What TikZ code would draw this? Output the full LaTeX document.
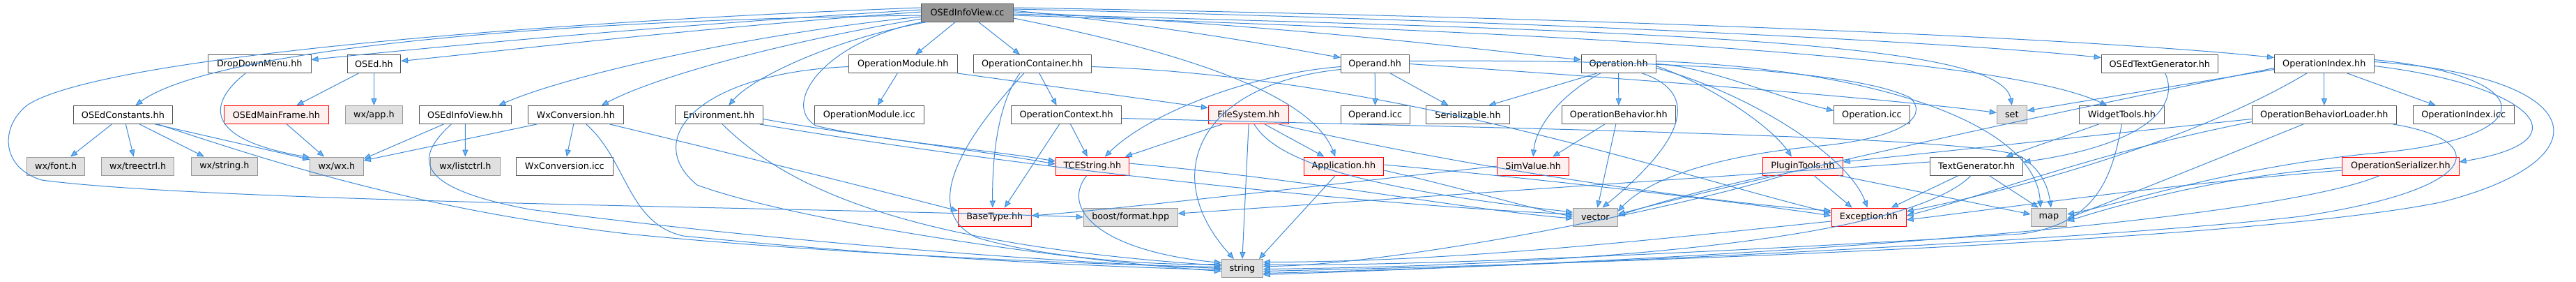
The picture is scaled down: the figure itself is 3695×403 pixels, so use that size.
\documentclass[tikz,border=0pt]{standalone}
\usepackage{fontspec}
\newfontfamily\djv{DejaVu Sans}
\usetikzlibrary{arrows.meta,calc}
\definecolor{edgecol}{HTML}{3E89D6}
\definecolor{arrfill}{HTML}{63B8FF}
\definecolor{nodeborder}{HTML}{555555}
\definecolor{extfill}{HTML}{E0E0E0}
\definecolor{extborder}{HTML}{999999}
\definecolor{truncfill}{HTML}{FFF0F0}
\definecolor{rootfill}{HTML}{999999}
\begin{document}
\begin{tikzpicture}[x=0.5pt,y=-0.5pt,
  nb/.style={draw=nodeborder, fill=white, line width=0.5pt, minimum height=13pt, inner sep=0pt, font=\djv\fontsize{6.4}{7.5}\selectfont, text=black},
  ext/.style={nb, draw=extborder, fill=extfill},
  trn/.style={nb, draw=red, fill=truncfill},
  root/.style={nb, fill=rootfill},
  lk/.style={draw=edgecol, line width=0.5pt, -{Triangle[length=5pt,width=4pt,fill=arrfill]}}]
\useasboundingbox (0,0) rectangle (3695,403);
% row 0
\node[root, minimum width=65.6pt] (top) at (1387.5,18) {OSEdInfoView.cc};
% row 1
\node[nb, minimum width=73.8pt] (dropdown) at (372.3,91.5) {DropDownMenu.hh};
\node[nb, minimum width=38.2pt] (osed) at (536.4,91.5) {OSEd.hh};
\node[nb, minimum width=77.9pt] (opmod) at (1295.3,91.5) {OperationModule.hh};
\node[nb, minimum width=84.3pt] (opcont) at (1480.8,91.5) {OperationContainer.hh};
\node[nb, minimum width=48.8pt] (operand) at (1972.2,91.5) {Operand.hh};
\node[nb, minimum width=53.4pt] (operation) at (2321.6,91.5) {Operation.hh};
\node[nb, minimum width=83.7pt] (osedtg) at (3097.8,91.5) {OSEdTextGenerator.hh};
\node[nb, minimum width=71.4pt] (opindex) at (3333.8,91.5) {OperationIndex.hh};
% row 2
\node[nb, minimum width=70.8pt] (osedconst) at (176.4,164.5) {OSEdConstants.hh};
\node[trn, minimum width=74.9pt] (mainframe) at (396.4,164.5) {OSEdMainFrame.hh};
\node[ext, minimum width=41pt] (wxapp) at (536.4,164.5) {wx/app.h};
\node[nb, minimum width=66.1pt] (infoview) at (667.3,164.5) {OSEdInfoView.hh};
\node[nb, minimum width=68.4pt] (wxconv) at (825.8,164.5) {WxConversion.hh};
\node[nb, minimum width=63.1pt] (env) at (1031.2,164.5) {Environment.hh};
\node[nb, minimum width=78.6pt] (opmodicc) at (1246.8,164.5) {OperationModule.icc};
\node[nb, minimum width=79.3pt] (opctx) at (1529.6,164.5) {OperationContext.hh};
\node[trn, minimum width=57.7pt] (fs) at (1791.1,164.5) {FileSystem.hh};
\node[nb, minimum width=49.6pt] (operandicc) at (1972.6,164.5) {Operand.icc};
\node[nb, minimum width=59.6pt] (serial) at (2105.5,164.5) {Serializable.hh};
\node[nb, minimum width=81.7pt] (opbeh) at (2321.8,164.5) {OperationBehavior.hh};
\node[nb, minimum width=54.4pt] (opicc) at (2684.9,164.5) {Operation.icc};
\node[ext, minimum width=21.6pt] (set) at (2885.8,164.5) {set};
\node[nb, minimum width=61pt] (widget) at (3043.4,164.5) {WidgetTools.hh};
\node[nb, minimum width=103.4pt] (obl) at (3333.8,164.5) {OperationBehaviorLoader.hh};
\node[nb, minimum width=72.4pt] (opindexicc) at (3533.7,164.5) {OperationIndex.icc};
% row 3
\node[ext, minimum width=41.7pt] (wxfont) at (80.1,238) {wx/font.h};
\node[ext, minimum width=52.2pt] (wxtree) at (197.7,238) {wx/treectrl.h};
\node[ext, minimum width=47.5pt] (wxstring) at (321.9,238) {wx/string.h};
\node[ext, minimum width=38.2pt] (wxwx) at (483.0,238) {wx/wx.h};
\node[ext, minimum width=49.6pt] (wxlist) at (667.4,238) {wx/listctrl.h};
\node[nb, minimum width=69.4pt] (wxconvicc) at (809.8,238) {WxConversion.icc};
\node[trn, minimum width=52.4pt] (tcestring) at (1566.8,238) {TCEString.hh};
\node[trn, minimum width=57.4pt] (app) at (1927.4,238) {Application.hh};
\node[trn, minimum width=51.6pt] (simvalue) at (2199.2,238) {SimValue.hh};
\node[trn, minimum width=57.4pt] (plugin) at (2585.9,238) {PluginTools.hh};
\node[nb, minimum width=66.7pt] (textgen) at (2835.2,238) {TextGenerator.hh};
\node[trn, minimum width=83.7pt] (opser) at (3443.4,238) {OperationSerializer.hh};
% row 4
\node[trn, minimum width=52.4pt] (basetype) at (1426.8,311) {BaseType.hh};
\node[ext, minimum width=67.4pt] (boost) at (1621.7,311) {boost/format.hpp};
\node[ext, minimum width=31.7pt] (vector) at (2288.4,311) {vector};
\node[trn, minimum width=53.6pt] (exception) at (2680.6,311) {Exception.hh};
\node[ext, minimum width=25.7pt] (map) at (2938.9,311) {map};
% row 5
\node[ext, minimum width=29.5pt] (string) at (1781.9,384.5) {string};

% ---- edges from OSEdInfoView.cc
\draw[lk] ($(top.west)+(0,4)$) .. controls (700,30) and (290,80) .. ($(osedconst.north)+(18,0)$);
\draw[lk] ($(top.west)+(0,-4)$) .. controls (900,40) and (600,70) .. ($(dropdown.east)+(0,-6)$);
\draw[lk] ($(top.west)+(0,-1)$) .. controls (1000,40) and (700,75) .. ($(osed.east)+(0,-4)$);
\draw[lk] ($(top.west)+(0,6)$) .. controls (1100,45) and (820,105) .. ($(infoview.north)+(48,0)$);
\draw[lk] ($(top.west)+(0,9)$) .. controls (1150,55) and (950,105) .. ($(wxconv.north)+(37,0)$);
\draw[lk] ($(top.south west)+(8,0)$) .. controls (1200,55) and (1080,110) .. ($(env.north)+(14,0)$);
\draw[lk] ($(top.south)+(-17,0)$) -- ($(opmod.north)+(18,0)$);
\draw[lk] ($(top.south)+(16,0)$) -- ($(opcont.north)+(-18,0)$);
\draw[lk] ($(top.east)+(0,-3)$) .. controls (1700,40) and (1850,70) .. ($(operand.west)+(0,-9)$);
\draw[lk] ($(top.east)+(0,-1)$) .. controls (1900,40) and (2150,75) .. ($(operation.west)+(0,-6)$);
\draw[lk] ($(top.east)+(0,-5)$) .. controls (2200,30) and (2800,60) .. ($(osedtg.west)+(0,-9)$);
\draw[lk] ($(top.east)+(0,-7)$) .. controls (2300,25) and (3000,55) .. ($(opindex.west)+(0,-9)$);
\draw[lk] ($(top.east)+(0,2)$) .. controls (2400,45) and (2870,60) .. (set.north);
\draw[lk] ($(top.east)+(0,4)$) .. controls (2500,55) and (2900,95) .. ($(widget.north)+(-21,0)$);
\draw[lk] ($(top.east)+(0,8)$) .. controls (1700,75) and (1880,135) .. ($(app.north)+(-12,0)$);
\draw[lk] ($(top.west)+(0,-7)$) .. controls (800,30) and (150,80) .. (40,150) .. controls (0,180) and (0,240) .. (60,258) .. controls (300,290) and (1200,298) .. (boost.west);
\draw[lk] ($(top.south west)+(2,0)$) .. controls (1180,60) and (1120,150) .. (1170,180) .. controls (1250,200) and (1420,215) .. ($(tcestring.west)+(0,-7)$);

% ---- OSEdConstants.hh
\draw[lk] ($(osedconst.south)+(-16,0)$) -- ($(wxfont.north)+(21,0)$);
\draw[lk] ($(osedconst.south)+(4,0)$) -- ($(wxtree.north)+(-6,0)$);
\draw[lk] ($(osedconst.south)+(24,0)$) -- ($(wxstring.north)+(-29,0)$);
\draw[lk] ($(osedconst.south)+(46,0)$) -- ($(wxwx.north west)+(0,4)$);
\draw[lk] ($(osedconst.south)+(50,0)$) .. controls (400,235) and (600,300) .. (900,335) .. controls (1200,365) and (1600,380) .. ($(string.west)+(0,-2)$);
% ---- DropDownMenu.hh, OSEd.hh, OSEdMainFrame.hh
\draw[lk] ($(dropdown.south)+(-20,0)$) .. controls (295,150) and (295,200) .. ($(wxwx.north west)+(0,1)$);
\draw[lk] ($(osed.south)+(-22,0)$) -- ($(mainframe.north)+(29,0)$);
\draw[lk] (osed.south) -- (wxapp.north);
\draw[lk] ($(mainframe.south)+(15,0)$) -- ($(wxwx.north)+(-18,0)$);
% ---- OSEdInfoView.hh
\draw[lk] ($(infoview.south)+(-31,0)$) -- ($(wxwx.north east)+(0,3)$);
\draw[lk] (infoview.south) -- (wxlist.north);
\draw[lk] ($(infoview.south)+(-20,0)$) .. controls (590,230) and (600,270) .. (760,300) .. controls (1100,345) and (1500,375) .. ($(string.west)+(0,0)$);
% ---- WxConversion.hh
\draw[lk] ($(wxconv.south)+(-56,0)$) -- ($(wxwx.east)+(0,-8)$);
\draw[lk] ($(wxconv.south)+(-3,0)$) -- ($(wxconvicc.north)+(3,0)$);
\draw[lk] ($(wxconv.south)+(15,0)$) .. controls (900,230) and (900,320) .. (980,338) .. controls (1300,370) and (1600,383) .. ($(string.west)+(0,2)$);
\draw[lk] ($(wxconv.south east)+(-20,0)$) .. controls (1050,220) and (1250,270) .. ($(basetype.west)+(0,-9)$);
% ---- Environment.hh
\draw[lk] ($(env.east)+(0,6)$) .. controls (1200,190) and (1400,215) .. ($(tcestring.west)+(0,-3)$);
\draw[lk] ($(env.south east)+(-5,0)$) .. controls (1400,230) and (1900,290) .. ($(vector.west)+(0,-4)$);
\draw[lk] ($(env.south)+(5,0)$) .. controls (1130,270) and (1300,350) .. ($(string.west)+(0,-4)$);
% ---- OperationModule.hh
\draw[lk] ($(opmod.south)+(-8,0)$) -- ($(opmodicc.north)+(12,0)$);
\draw[lk] (opmod.south east) -- ($(fs.west)+(0,-10)$);
\draw[lk] ($(opmod.west)+(0,4)$) .. controls (1000,105) and (920,200) .. (1000,265) .. controls (1150,320) and (1550,375) .. ($(string.west)+(0,4)$);
% ---- OperationContainer.hh
\draw[lk] ($(opcont.south)+(10,0)$) -- ($(opctx.north)+(-14,0)$);
\draw[lk] ($(opcont.south)+(-18,0)$) .. controls (1430,150) and (1423,230) .. ($(basetype.north)+(-3,0)$);
\draw[lk] ($(opcont.south)+(-12,0)$) .. controls (1380,200) and (1320,300) .. (1400,340) .. controls (1500,370) and (1650,380) .. ($(string.west)+(0,-6)$);
\draw[lk] ($(opcont.east)+(0,4)$) .. controls (2000,110) and (2400,250) .. ($(exception.west)+(0,-6)$);
% ---- OperationContext.hh
\draw[lk] ($(opctx.south)+(-10,0)$) -- ($(basetype.north)+(14,0)$);
\draw[lk] ($(opctx.south)+(6,0)$) -- ($(tcestring.north)+(-7,0)$);
\draw[lk] ($(opctx.east)+(0,5)$) .. controls (2200,185) and (2850,195) .. (2900,225) .. controls (2930,245) and (2938,270) .. ($(map.north)+(3,0)$);
% ---- FileSystem.hh
\draw[lk] ($(fs.south west)+(20,0)$) -- ($(tcestring.north east)+(-6,0)$);
\draw[lk] (fs.south) -- (string.north);
\draw[lk] ($(fs.south)+(23,0)$) -- ($(app.north)+(-28,0)$);
\draw[lk] ($(fs.south)+(8,0)$) .. controls (1830,230) and (1950,270) .. ($(vector.west)+(0,-7)$);
\draw[lk] ($(fs.south east)+(-15,0)$) .. controls (2100,240) and (2450,290) .. ($(exception.west)+(0,-9)$);
% ---- Operand.hh
\draw[lk] (operand.south) -- (operandicc.north);
\draw[lk] ($(operand.south)+(22,0)$) -- ($(serial.north)+(-28,0)$);
\draw[lk] ($(operand.west)+(0,4)$) .. controls (1800,105) and (1650,160) .. ($(tcestring.north)+(18,0)$);
\draw[lk] ($(operand.west)+(0,8)$) .. controls (1720,120) and (1660,250) .. ($(string.north)+(-12,0)$);
\draw[lk] (operand.east) .. controls (2300,110) and (2700,140) .. ($(set.west)+(0,-3)$);
\draw[lk] ($(operand.east)+(0,-4)$) .. controls (2300,85) and (2650,95) .. (2740,140) .. controls (2770,170) and (2720,200) .. (2600,210) .. controls (2450,225) and (2360,260) .. ($(vector.east)+(0,-8)$);
% ---- Operation.hh
\draw[lk] (operation.south) -- (opbeh.north);
\draw[lk] ($(operation.south)+(-31,0)$) -- ($(serial.north)+(30,0)$);
\draw[lk] ($(operation.south)+(-26,0)$) .. controls (2240,135) and (2203,180) .. (simvalue.north);
\draw[lk] (operation.east) .. controls (2450,95) and (2550,140) .. ($(opicc.west)+(0,-6)$);
\draw[lk] ($(operation.south east)+(-20,0)$) .. controls (2430,130) and (2430,190) .. ($(vector.north)+(10,0)$);
\draw[lk] ($(operation.east)+(0,-4)$) .. controls (2700,100) and (2920,180) .. ($(map.north)+(-12,0)$);
\draw[lk] ($(operation.east)+(0,6)$) .. controls (2500,130) and (2650,220) .. ($(exception.north)+(-2,0)$);
\draw[lk] ($(operation.east)+(0,3)$) .. controls (2450,120) and (2540,180) .. ($(plugin.north)+(-16,0)$);
% ---- OperationBehavior.hh, SimValue.hh
\draw[lk] ($(opbeh.south)+(-20,0)$) -- ($(simvalue.north)+(28,0)$);
\draw[lk] ($(opbeh.south)+(-4,0)$) -- ($(vector.north)+(3,0)$);
\draw[lk] (simvalue.west) .. controls (1900,265) and (1600,300) .. ($(basetype.east)+(0,-2)$);
% ---- Application.hh
\draw[lk] ($(app.south)+(-12,0)$) -- ($(string.north east)+(-6,0)$);
\draw[lk] ($(app.east)+(0,6)$) .. controls (2100,270) and (2200,300) .. ($(vector.west)+(0,-1)$);
\draw[lk] ($(app.east)+(0,-2)$) .. controls (2200,255) and (2500,290) .. ($(exception.west)+(0,-2)$);
% ---- TCEString.hh
\draw[lk] ($(tcestring.south)+(-8,0)$) .. controls (1520,300) and (1580,360) .. ($(string.west)+(0,-8)$);
\draw[lk] ($(tcestring.east)+(0,-4)$) .. controls (1900,260) and (2100,300) .. ($(vector.west)+(0,2)$);
% ---- PluginTools.hh
\draw[lk] ($(plugin.south)+(16,0)$) -- ($(exception.north)+(-24,0)$);
\draw[lk] ($(plugin.south east)+(-6,0)$) -- ($(map.west)+(0,-4)$);
\draw[lk] ($(plugin.south west)+(10,0)$) .. controls (2450,270) and (2380,290) .. ($(vector.east)+(0,-2)$);
\draw[lk] ($(plugin.south)+(-28,0)$) .. controls (2400,300) and (2000,380) .. ($(string.east)+(0,-3)$);
% ---- TextGenerator.hh
\draw[lk] ($(textgen.south)+(-26,0)$) -- ($(exception.north east)+(-22,0)$);
\draw[lk] ($(textgen.south)+(-8,0)$) .. controls (2740,340) and (2300,380) .. ($(string.east)+(0,1)$);
\draw[lk] ($(textgen.south)+(18,0)$) -- ($(map.north)+(-15,0)$);
\draw[lk] ($(textgen.west)+(0,-6)$) -- ($(boost.east)+(0,-5)$);
% ---- WidgetTools.hh, OSEdTextGenerator.hh
\draw[lk] ($(widget.south)+(-33,0)$) -- ($(textgen.north)+(42,0)$);
\draw[lk] (widget.south) .. controls (3030,250) and (3010,320) .. (2900,335) .. controls (2500,360) and (2000,383) .. ($(string.east)+(0,-6)$);
\draw[lk] ($(osedtg.south)+(8,0)$) .. controls (3130,160) and (3060,210) .. ($(textgen.east)+(0,-6)$);
% ---- OperationIndex.hh
\draw[lk] (opindex.south) -- (obl.north);
\draw[lk] ($(opindex.south)+(33,0)$) -- ($(opindexicc.north)+(-40,0)$);
\draw[lk] ($(opindex.east)+(0,3)$) .. controls (3620,120) and (3720,200) .. ($(opser.east)+(0,-6)$);
\draw[lk] ($(opindex.west)+(0,8)$) -- ($(set.east)+(0,-6)$);
\draw[lk] ($(opindex.east)+(0,-3)$) .. controls (3720,110) and (3740,230) .. (3500,290) .. controls (3200,350) and (2200,380) .. ($(string.east)+(0,4)$);
\draw[lk] ($(opindex.south)+(-25,0)$) .. controls (3150,200) and (2900,270) .. ($(exception.east)+(0,-8)$);
\draw[lk] ($(opindex.west)+(0,6)$) .. controls (2900,170) and (2500,260) .. ($(vector.east)+(0,-4)$);
\draw[lk] ($(opindex.east)+(0,-6)$) .. controls (3650,110) and (3650,200) .. (3400,220) .. controls (3200,240) and (3050,290) .. ($(map.east)+(0,-4)$);
% ---- OperationBehaviorLoader.hh
\draw[lk] ($(obl.west)+(0,6)$) -- ($(plugin.east)+(0,-6)$);
\draw[lk] ($(obl.south)+(-30,0)$) .. controls (3200,220) and (3050,280) .. ($(map.east)+(0,2)$);
\draw[lk] ($(obl.south east)+(-5,0)$) .. controls (3570,200) and (3570,270) .. (3300,310) .. controls (3000,345) and (2200,382) .. ($(string.east)+(0,7)$);
\draw[lk] ($(obl.west)+(0,10)$) .. controls (3000,220) and (2850,280) .. ($(exception.east)+(0,-2)$);
% ---- OperationSerializer.hh
\draw[lk] ($(opser.west)+(0,6)$) .. controls (3100,265) and (2900,295) .. ($(exception.east)+(0,4)$);
\draw[lk] ($(opser.west)+(0,2)$) .. controls (3200,250) and (3050,290) .. ($(map.east)+(0,6)$);
\draw[lk] ($(opser.south)+(-30,0)$) .. controls (3300,300) and (2800,360) .. ($(string.east)+(0,9)$);
% ---- Exception.hh
\draw[lk] ($(exception.west)+(0,6)$) .. controls (2400,340) and (2100,375) .. ($(string.east)+(0,-9)$);
\end{tikzpicture}
\end{document}
